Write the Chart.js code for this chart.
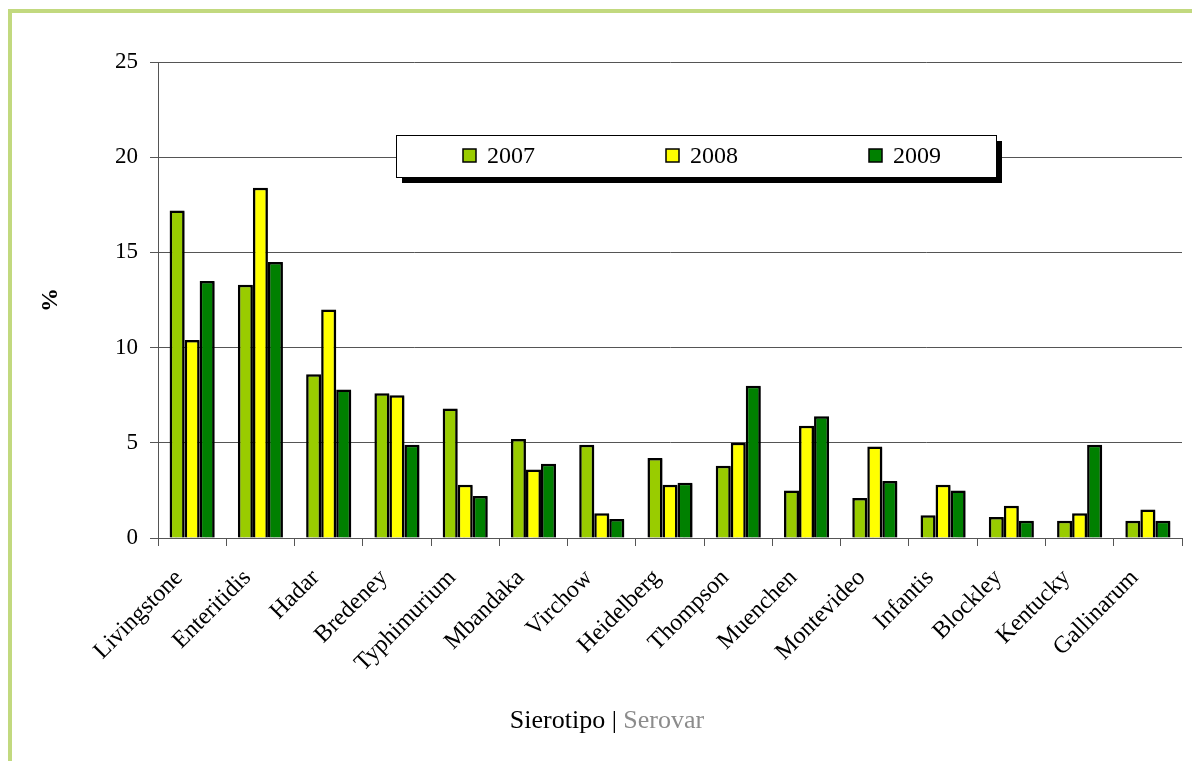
<!DOCTYPE html>
<html>
<head>
<meta charset="utf-8">
<script src="https://cdn.jsdelivr.net/npm/chart.js@4.4.1/dist/chart.umd.min.js"></script>
<style>
  html, body { margin: 0; padding: 0; background: #fff; }
  canvas { display: block; }
</style>
</head>
<body>
<canvas id="serovarChart" width="1192" height="761"></canvas>
<script>
// Sierotipi e percentuali per anno
const serovars = ['Livingstone', 'Enteritidis', 'Hadar', 'Bredeney', 'Typhimurium', 'Mbandaka',
  'Virchow', 'Heidelberg', 'Thompson', 'Muenchen', 'Montevideo', 'Infantis', 'Blockley',
  'Kentucky', 'Gallinarum'];
const years = ['2007', '2008', '2009'];
const pct2007 = [17.2, 13.3, 8.6, 7.6, 6.8, 5.2, 4.9, 4.2, 3.8, 2.5, 2.1, 1.2, 1.1, 0.9, 0.9];
const pct2008 = [10.4, 18.4, 12.0, 7.5, 2.8, 3.6, 1.3, 2.8, 5.0, 5.9, 4.8, 2.8, 1.7, 1.3, 1.5];
const pct2009 = [13.5, 14.5, 7.8, 4.9, 2.2, 3.9, 1.0, 2.9, 8.0, 6.4, 3.0, 2.5, 0.9, 4.9, 0.9];
const yTicks = [0, 5, 10, 15, 20, 25];

const colors = ['#99cc00', '#ffff00', '#008000'];
const serif = "'Liberation Serif', 'Times New Roman', serif";

Chart.defaults.font.family = serif;
Chart.defaults.color = '#000';

// cornice verde chiaro
const framePlugin = {
  id: 'frame',
  beforeDraw(chart) {
    const {ctx} = chart;
    ctx.save();
    ctx.fillStyle = '#c2d97f';
    ctx.fillRect(8, 9, 4, chart.height - 9);
    ctx.fillRect(8, 9, chart.width - 8, 4);
    ctx.restore();
  }
};

// ombra leggera delle barre
const barShadow = {
  id: 'barShadow',
  beforeDatasetsDraw(chart) {
    const {ctx} = chart;
    ctx.save();
    ctx.shadowColor = 'rgba(0,0,0,0.35)';
    ctx.shadowOffsetX = 1.5;
    ctx.shadowOffsetY = 1;
    ctx.shadowBlur = 1.5;
  },
  afterDatasetsDraw(chart) {
    chart.ctx.restore();
  }
};

// legenda in un riquadro con ombra nera
const boxLegend = {
  id: 'boxLegend',
  afterDraw(chart) {
    const {ctx} = chart;
    const x = 396, y = 135, w = 600, h = 42;
    ctx.save();
    ctx.fillStyle = '#000';
    ctx.fillRect(x + 6, y + 6, w, h);
    ctx.fillStyle = '#fff';
    ctx.fillRect(x, y, w, h);
    ctx.strokeStyle = '#000';
    ctx.lineWidth = 1;
    ctx.strokeRect(x + 0.5, y + 0.5, w, h);

    ctx.font = '24px ' + serif;
    ctx.textBaseline = 'middle';
    chart.data.datasets.forEach((ds, i) => {
      const sx = 463 + i * 203;
      const sy = y + h / 2 - 7;
      ctx.fillStyle = ds.backgroundColor;
      ctx.fillRect(sx, sy, 13, 13);
      ctx.strokeStyle = '#000';
      ctx.lineWidth = 1.5;
      ctx.strokeRect(sx, sy, 13, 13);
      ctx.fillStyle = '#000';
      ctx.fillText(ds.label, sx + 24, y + h / 2 + 1);
    });
    ctx.restore();
  }
};

// titoli degli assi
const axisTitles = {
  id: 'axisTitles',
  afterDraw(chart) {
    const {ctx} = chart;
    ctx.save();
    ctx.textBaseline = 'middle';

    ctx.font = 'bold 24px ' + serif;
    ctx.translate(51, 300);
    ctx.rotate(-Math.PI / 2);
    ctx.textAlign = 'center';
    ctx.fillStyle = '#000';
    ctx.fillText('%', 0, 0);
    ctx.setTransform(1, 0, 0, 1, 0, 0);

    ctx.font = '26px ' + serif;
    ctx.textAlign = 'left';
    const parts = [['Sierotipo ', '#000'], ['| ', '#000'], ['Serovar', '#8c8c8c']];
    const total = parts.reduce((s, p) => s + ctx.measureText(p[0]).width, 0);
    let tx = 607 - total / 2;
    parts.forEach(([t, c]) => {
      ctx.fillStyle = c;
      ctx.fillText(t, tx, 721);
      tx += ctx.measureText(t).width;
    });
    ctx.restore();
  }
};

const ctx = document.getElementById('serovarChart').getContext('2d');
const chart = new Chart(ctx, {
  type: 'bar',
  data: {
    labels: serovars,
    datasets: [
      { label: years[0], data: pct2007, backgroundColor: colors[0] },
      { label: years[1], data: pct2008, backgroundColor: colors[1] },
      { label: years[2], data: pct2009, backgroundColor: colors[2] }
    ]
  },
  options: {
    responsive: false,
    animation: false,
    layout: { padding: { top: 62, right: 10, left: 0, bottom: 0 } },
    datasets: {
      bar: {
        borderColor: '#000',
        borderWidth: 2.5,
        categoryPercentage: 0.66,
        barPercentage: 1.0
      }
    },
    plugins: {
      legend: { display: false },
      tooltip: { enabled: false }
    },
    scales: {
      x: {
        grid: {
          display: true,
          drawOnChartArea: false,
          offset: true,
          tickLength: 8,
          color: '#555'
        },
        border: { color: '#555', width: 1 },
        ticks: {
          minRotation: 45,
          maxRotation: 45,
          padding: 18,
          labelOffset: -13,
          font: { size: 24 },
          color: '#000'
        },
        afterFit(scale) { scale.height = 223; }
      },
      y: {
        min: 0,
        max: 25,
        afterBuildTicks(scale) { scale.ticks = yTicks.map(v => ({ value: v })); },
        grid: {
          color: '#555',
          lineWidth: 1,
          tickLength: 8
        },
        border: { color: '#555', width: 1 },
        ticks: {
          padding: 12,
          font: { size: 23 },
          color: '#000'
        },
        afterFit(scale) { scale.width = 158; }
      }
    }
  },
  plugins: [framePlugin, barShadow, boxLegend, axisTitles]
});
</script>
</body>
</html>
